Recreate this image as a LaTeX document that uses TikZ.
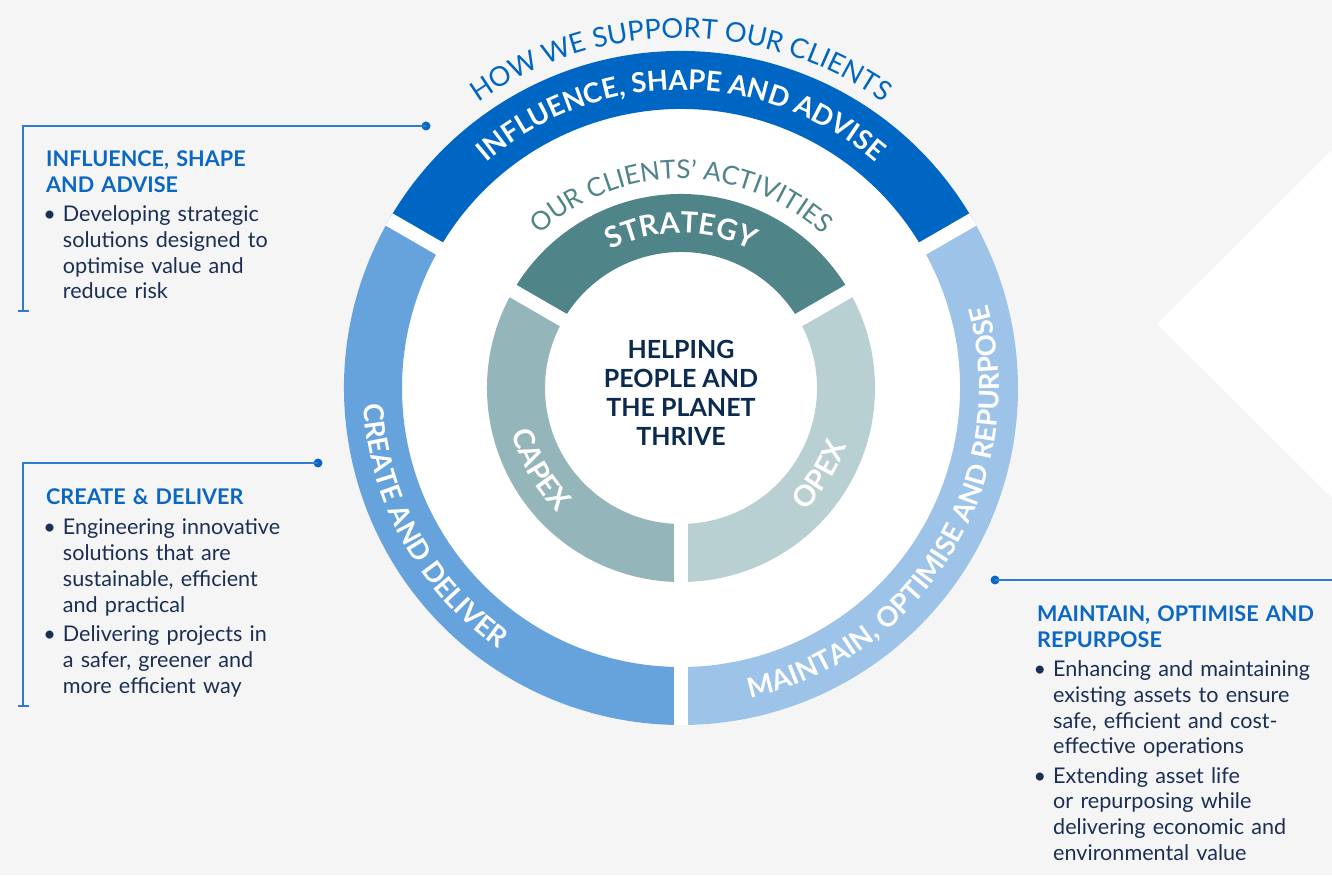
\documentclass[tikz,border=0pt]{standalone}
\usepackage{fontspec}
\setmainfont{Lato}
\usetikzlibrary{decorations.text}
\definecolor{bg}{HTML}{F5F5F5}
\definecolor{dblue}{HTML}{0066C4}
\definecolor{mblue}{HTML}{66A3DC}
\definecolor{lblue}{HTML}{9DC3E8}
\definecolor{tealA}{HTML}{4F8489}
\definecolor{tealB}{HTML}{94B5B9}
\definecolor{tealC}{HTML}{B9D0D3}
\definecolor{navy}{HTML}{0B2A4F}
\definecolor{bodyc}{HTML}{1B2F55}
\definecolor{headc}{HTML}{0A68C4}
\definecolor{linec}{HTML}{2F7BD0}
\newcommand\bandfont{\color{white}\bfseries\fontsize{27.5}{27.5}\selectfont}
\newcommand\innerfont{\color{white}\bfseries\fontsize{29}{29}\selectfont}
\newcommand\actfont{\color{tealA}\fontsize{26}{26}\selectfont}
\newcommand\howfont{\color{dblue}\fontsize{27.3}{27.3}\selectfont}
\newcommand\bul{\makebox[0pt][r]{\textbullet\hspace{7pt}}}
\tikzset{
  arclabel/.style={decorate,decoration={text along path,text align=center,text={#1}}},
  headtext/.style={anchor=base west,inner sep=0pt,text width=300pt,align=left,text=headc,font=\bfseries\fontsize{21.6}{25.5}\selectfont},
  bodytext/.style={anchor=base west,inner sep=0pt,text width=300pt,align=left,text=bodyc,font=\fontsize{21.6}{25.7}\selectfont},
  leader/.style={draw=linec,line width=1.6pt},
  leaderdot/.style={circle,fill=headc,inner sep=0pt,minimum size=9pt},
}
\begin{document}
\begin{tikzpicture}[x=1pt,y=1pt]
\fill[bg] (0,0) rectangle (1332,875);
\useasboundingbox (0,0) rectangle (1332,875);
\fill[white] (1332,725) -- (1157,551) -- (1332,377) -- cycle;
\coordinate (C) at (681,487);
\fill[white] (C) circle (337);
% outer ring
\fill[dblue] ([shift={(30:337)}]C) arc[start angle=30,end angle=150,radius=337] -- ([shift={(150:279)}]C) arc[start angle=150,end angle=30,radius=279] -- cycle;
\fill[mblue] ([shift={(150:337)}]C) arc[start angle=150,end angle=270,radius=337] -- ([shift={(270:279)}]C) arc[start angle=270,end angle=150,radius=279] -- cycle;
\fill[lblue] ([shift={(270:337)}]C) arc[start angle=270,end angle=390,radius=337] -- ([shift={(390:279)}]C) arc[start angle=390,end angle=270,radius=279] -- cycle;
% inner ring
\fill[tealA] ([shift={(30:194)}]C) arc[start angle=30,end angle=150,radius=194] -- ([shift={(150:136)}]C) arc[start angle=150,end angle=30,radius=136] -- cycle;
\fill[tealB] ([shift={(150:194)}]C) arc[start angle=150,end angle=270,radius=194] -- ([shift={(270:136)}]C) arc[start angle=270,end angle=150,radius=136] -- cycle;
\fill[tealC] ([shift={(270:194)}]C) arc[start angle=270,end angle=390,radius=194] -- ([shift={(390:136)}]C) arc[start angle=390,end angle=270,radius=136] -- cycle;
% gaps
\begin{scope}
\clip (C) circle (337);
\foreach \a in {30,150,270} \draw[white,line width=14pt] (C) -- ++(\a:345);
\end{scope}
% arc labels
\path[arclabel={|\howfont|HOW WE SUPPORT OUR CLIENTS}] ([shift={(170:350)}]C) arc[start angle=170,end angle=10,radius=350];
\path[arclabel={|\bandfont|INFLUENCE, SHAPE AND ADVISE}] ([shift={(165:298)}]C) arc[start angle=165,end angle=15,radius=298];
\path[arclabel={|\bandfont|CREATE AND DELIVER}] ([shift={(149:318)}]C) arc[start angle=149,end angle=269,radius=318];
\path[arclabel={|\bandfont|MAINTAIN, OPTIMISE AND REPURPOSE}] ([shift={(269:318)}]C) arc[start angle=269,end angle=389,radius=318];
\path[arclabel={|\actfont|OUR CLIENTS’ ACTIVITIES}] ([shift={(170:209)}]C) arc[start angle=170,end angle=10,radius=209];
\path[arclabel={|\innerfont|STRATEGY}] ([shift={(150:155)}]C) arc[start angle=150,end angle=30,radius=155];
\path[arclabel={|\innerfont|CAPEX}] ([shift={(150:175)}]C) arc[start angle=150,end angle=270,radius=175];
\path[arclabel={|\innerfont|OPEX}] ([shift={(268:175)}]C) arc[start angle=268,end angle=388,radius=175];
% centre
\node[align=center,text=navy,font=\bfseries\fontsize{25}{29}\selectfont,inner sep=0pt] (centre) at (681,482) {HELPING\\PEOPLE AND\\THE PLANET\\THRIVE};
% box 1
\node[leaderdot] (d1) at (426,749) {};
\coordinate (k1) at (23,749);
\coordinate (e1) at (23,564);
\draw[leader] (d1.center) -- (k1) -- (e1);
\draw[leader] (18,564) -- (29,564);
\node[headtext] (h1) at (46,708.3) {INFLUENCE, SHAPE\\AND ADVISE};
\node[bodytext] (b1) at (62.7,653.3) {\bul Developing strategic\\solutions designed to\\optimise value and\\reduce risk};
% box 2
\node[leaderdot] (d2) at (318,412) {};
\coordinate (k2) at (23,412);
\coordinate (e2) at (23,169);
\draw[leader] (d2.center) -- (k2) -- (e2);
\draw[leader] (18,169) -- (29,169);
\node[headtext] (h2) at (46,370) {CREATE \& DELIVER};
\node[bodytext] (b2) at (62.7,340) {\bul Engineering innovative\\solutions that are\\sustainable, efficient\\and practical};
\node[bodytext] (b3) at (62.7,233.3) {\bul Delivering projects in\\a safer, greener and\\more efficient way};
% box 3
\node[leaderdot] (d3) at (995,295) {};
\coordinate (k3) at (1332,295);
\draw[leader] (d3.center) -- (k3);
\node[headtext] (h3) at (1037,253.3) {MAINTAIN, OPTIMISE AND\\REPURPOSE};
\node[bodytext] (b4) at (1053,198.3) {\bul Enhancing and maintaining\\existing assets to ensure\\safe, efficient and cost-\\effective operations};
\node[bodytext] (b5) at (1053,91.7) {\bul Extending asset life\\or repurposing while\\delivering economic and\\environmental value};
\end{tikzpicture}
\end{document}
